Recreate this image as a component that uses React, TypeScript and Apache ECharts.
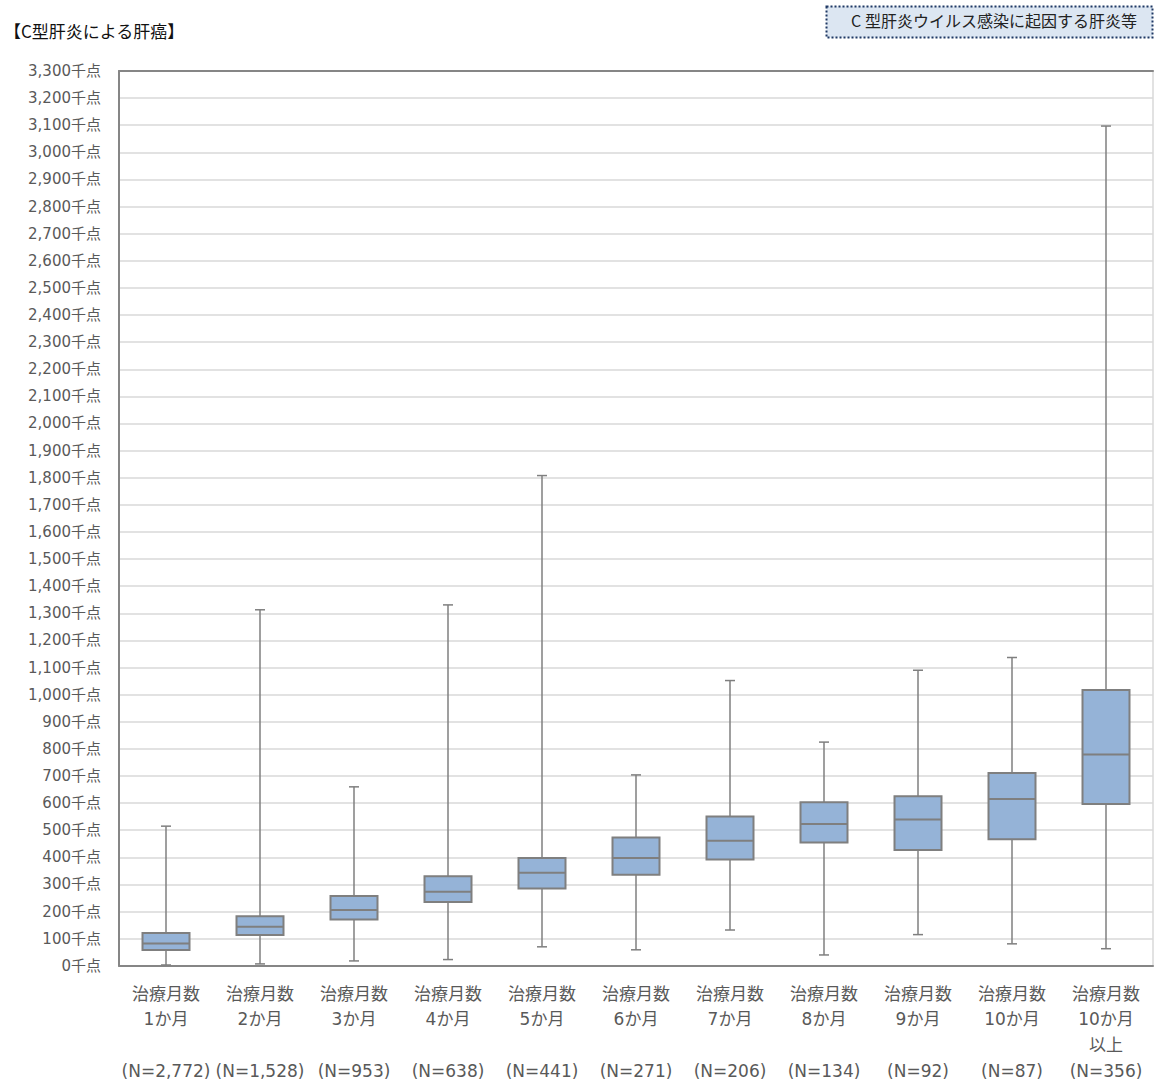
import React, { useEffect, useRef } from "react";
import * as echarts from "echarts";

const categories = [
  "治療月数\n1か月\n\n(N=2,772)",
  "治療月数\n2か月\n\n(N=1,528)",
  "治療月数\n3か月\n\n(N=953)",
  "治療月数\n4か月\n\n(N=638)",
  "治療月数\n5か月\n\n(N=441)",
  "治療月数\n6か月\n\n(N=271)",
  "治療月数\n7か月\n\n(N=206)",
  "治療月数\n8か月\n\n(N=134)",
  "治療月数\n9か月\n\n(N=92)",
  "治療月数\n10か月\n\n(N=87)",
  "治療月数\n10か月\n以上\n(N=356)",
];

// values in 千点
const minValues = [3, 7, 18, 23, 70, 59, 132, 40, 115, 81, 63];
const q1Values = [58, 114, 171, 235, 285, 336, 392, 455, 427, 467, 597];
const medianValues = [82, 144, 206, 273, 343, 398, 461, 523, 540, 615, 779];
const q3Values = [121, 183, 257, 330, 398, 473, 551, 603, 625, 711, 1017];
const maxValues = [515, 1313, 660, 1331, 1808, 704, 1052, 825, 1090, 1137, 3097];

const yMin = 0;
const yMax = 3300;
const yInterval = 100;

const titleText = "【C型肝炎による肝癌】";
const badgeText = "C 型肝炎ウイルス感染に起因する肝炎等";

const FONT = '"Noto Sans CJK JP", "Noto Sans", sans-serif';
const LABEL_FONT = '"DejaVu Sans", "Noto Sans CJK JP", sans-serif';

export default function App() {
  const ref = useRef<HTMLDivElement>(null);

  useEffect(() => {
    if (!ref.current) return;
    const chart = echarts.init(ref.current, undefined, { renderer: "svg" });

    const data = categories.map((_, i) => [
      i,
      minValues[i],
      q1Values[i],
      medianValues[i],
      q3Values[i],
      maxValues[i],
    ]);

    const stroke = "#7f7f7f";

    const option: any = {
      animation: false,
      textStyle: { fontFamily: FONT },
      grid: {
        left: 119,
        right: 1,
        top: 71,
        bottom: 112,
        show: true,
        borderColor: "#d9d9d9",
        borderWidth: 1.5,
        backgroundColor: "transparent",
      },
      graphic: [
        {
          type: "text",
          left: 4,
          top: 22,
          style: {
            text: titleText,
            fontSize: 17,
            fontWeight: "normal",
            fontFamily: FONT,
            fill: "#111",
          },
        },
        {
          type: "rect",
          shape: { x: 826.5, y: 6.5, width: 326, height: 31 },
          style: {
            fill: "#dce6f2",
            stroke: "#1f3864",
            lineWidth: 2,
            lineDash: [2, 2],
          },
        },
        {
          type: "text",
          x: 994,
          y: 20,
          style: {
            text: badgeText,
            fontSize: 16,
            fontFamily: FONT,
            fill: "#222",
            align: "center",
            verticalAlign: "middle",
          },
        },
      ],
      xAxis: [
        {
          type: "category",
          data: categories,
          position: "bottom",
          axisLine: { show: true, lineStyle: { color: "#868686", width: 2 } },
          axisTick: { show: false },
          axisLabel: {
            color: "#595959",
            fontSize: 17,
            lineHeight: 25.8,
            margin: 15,
            interval: 0,
            fontFamily: LABEL_FONT,
          },
          splitLine: { show: false },
        },
        {
          type: "category",
          data: categories,
          position: "top",
          axisLine: { show: true, lineStyle: { color: "#868686", width: 2 } },
          axisTick: { show: false },
          axisLabel: { show: false },
          splitLine: { show: false },
        },
      ],
      yAxis: {
        type: "value",
        min: yMin,
        max: yMax,
        interval: yInterval,
        axisLine: { show: true, lineStyle: { color: "#868686", width: 2 } },
        axisTick: { show: false },
        axisLabel: {
          color: "#595959",
          fontSize: 15,
          margin: 18,
          fontFamily: LABEL_FONT,
          formatter: (v: number) => v.toLocaleString("en-US") + "千点",
        },
        splitLine: { show: true, lineStyle: { color: "#d9d9d9", width: 1.5 } },
      },
      series: [
        {
          type: "custom",
          xAxisIndex: 0,
          data,
          encode: { x: 0, y: [1, 2, 3, 4, 5] },
          renderItem: (params: any, api: any) => {
            const idx = api.value(0);
            const pMin = api.coord([idx, api.value(1)]);
            const pQ1 = api.coord([idx, api.value(2)]);
            const pMed = api.coord([idx, api.value(3)]);
            const pQ3 = api.coord([idx, api.value(4)]);
            const pMax = api.coord([idx, api.value(5)]);
            const bandW = api.size([1, 0])[0];
            const boxW = bandW * 0.5;
            const capW = 10;
            const cx = pMin[0];
            const lineStyle = { stroke, lineWidth: 1.5, fill: "none" };
            return {
              type: "group",
              children: [
                {
                  type: "line",
                  shape: { x1: cx, y1: pMin[1], x2: cx, y2: pMax[1] },
                  style: lineStyle,
                },
                {
                  type: "line",
                  shape: { x1: cx - capW / 2, y1: pMin[1], x2: cx + capW / 2, y2: pMin[1] },
                  style: lineStyle,
                },
                {
                  type: "line",
                  shape: { x1: cx - capW / 2, y1: pMax[1], x2: cx + capW / 2, y2: pMax[1] },
                  style: lineStyle,
                },
                {
                  type: "rect",
                  shape: {
                    x: cx - boxW / 2,
                    y: pQ3[1],
                    width: boxW,
                    height: pQ1[1] - pQ3[1],
                  },
                  style: { fill: "#95b3d7", stroke, lineWidth: 2 },
                },
                {
                  type: "line",
                  shape: { x1: cx - boxW / 2, y1: pMed[1], x2: cx + boxW / 2, y2: pMed[1] },
                  style: { stroke, lineWidth: 2 },
                },
              ],
            };
          },
        },
      ],
    };

    chart.setOption(option);
    return () => chart.dispose();
  }, []);

  return (
    <div
      ref={ref}
      style={{ position: "fixed", left: 0, top: 0, width: 1154, height: 1084, background: "#fff" }}
    />
  );
}
